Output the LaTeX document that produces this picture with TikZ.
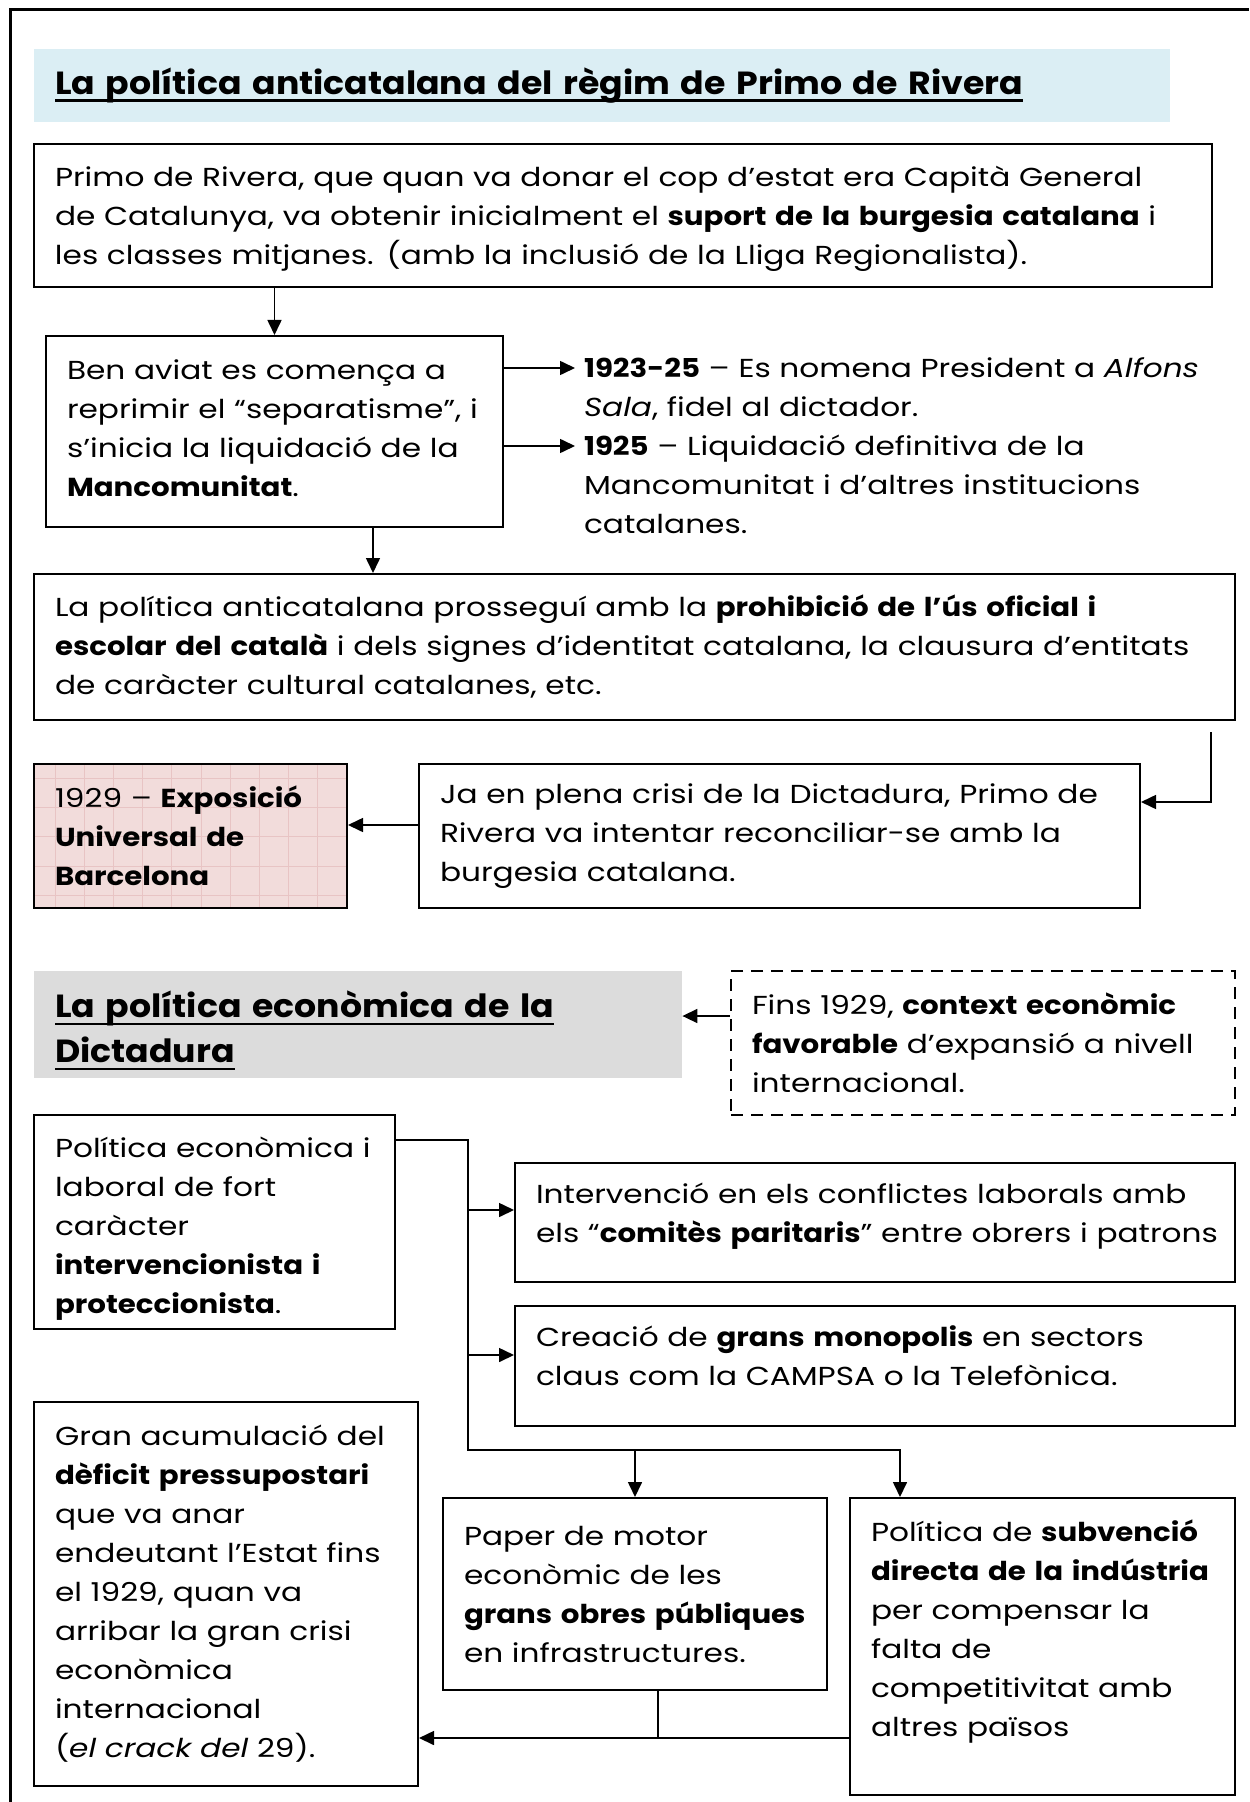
\documentclass[tikz,border=0pt]{standalone}
\usepackage{fontspec}
\setmainfont{Poppins}[UprightFeatures={FakeStretch=1.2},BoldFeatures={FakeStretch=1.125},
  ItalicFeatures={FakeStretch=1.2},BoldItalicFeatures={FakeStretch=1.125}]
\newfontfamily\headfont{Poppins}[UprightFeatures={FakeStretch=1.085},BoldFeatures={FakeStretch=1.085}]
\usetikzlibrary{arrows.meta}
\definecolor{titleblue}{HTML}{DBEEF4}
\definecolor{titlegray}{HTML}{DCDCDC}
\definecolor{expopink}{HTML}{F2DCDB}
\definecolor{gridpink}{HTML}{E8C4C4}
\newcommand{\uln}[1]{\leavevmode\setbox0\hbox{#1}\rlap{\rule[-3.8pt]{\wd0}{1.4pt}}\box0}
\newcommand{\uptext}[1]{\rule[-#1]{0pt}{#1}}
\newcommand{\downtext}[1]{\rule{0pt}{#1}}
\tikzset{
  box/.style={draw,line width=1pt,align=left,inner xsep=10.5pt,inner ysep=0pt,
    font=\fontsize{13}{19.5}\selectfont},
  plain/.style={align=left,inner xsep=10.5pt,inner ysep=0pt,
    font=\fontsize{13}{19.5}\selectfont},
  heading/.style={fill=#1,align=left,inner xsep=10.5pt,inner ysep=0pt,
    font=\fontsize{16}{22.5}\selectfont\headfont\bfseries},
  link/.style={->,line width=0.8pt},
}
\begin{document}
\begin{tikzpicture}[>={Triangle[length=7.5pt,width=7pt]},x=0.5pt,y=-0.5pt]
\useasboundingbox (0,0) rectangle (1249,1802);
\draw [line width=1.5pt] (10,1802) -- (10,10) -- (1249,10);
%%
\node (title1) at (602,85.5) [heading=titleblue,text width=547pt,minimum height=36.5pt] {\uln{La política anticatalana del règim de Primo de Rivera}};
  \node (box1) at (623,215.5) [box,text width=568pt,minimum height=71.5pt] {\downtext{14pt}Primo de Rivera, que quan va donar el cop d’estat era Capità General\\de Catalunya, va obtenir inicialment el \textbf{suport de la burgesia catalana} i\\les classes mitjanes. (amb la inclusió de la Lliga Regionalista).};
  \node (box2) at (274.5,431.5) [box,text width=207.5pt,minimum height=95.5pt] {Ben aviat es comença a\\reprimir el “separatisme”, i\\s’inicia la liquidació de la\\\textbf{Mancomunitat}.\uptext{3.5pt}};
  \node (sala) at (899,446) [plain,text width=315pt] {\textbf{1923-25} – Es nomena President a \textit{Alfons}\\\textit{Sala}, fidel al dictador.\\\textbf{1925} – Liquidació definitiva de la\\Mancomunitat i d’altres institucions\\catalanes.};
  \node (box3) at (634.5,647) [box,text width=579.5pt,minimum height=73pt] {La política anticatalana prosseguí amb la \textbf{prohibició de l’ús oficial i}\\\textbf{escolar del català} i dels signes d’identitat catalana, la clausura d’entitats\\de caràcter cultural catalanes, etc.};
  \node (box4) at (190.5,836) [box,fill=expopink,text width=135.5pt,minimum height=72pt,
    path picture={\draw [gridpink,line width=0.5pt] (path picture bounding box.south west) grid[step=14.6pt] (path picture bounding box.north east);}] {1929 – \textbf{Exposició}\\\textbf{Universal de}\\\textbf{Barcelona}};
  \node (box5) at (779.5,836) [box,text width=339.5pt,minimum height=72pt] {Ja en plena crisi de la Dictadura, Primo de\\Rivera va intentar reconciliar-se amb la\\burgesia catalana.};
  \node (title2) at (358,1024.5) [heading=titlegray,text width=303pt,minimum height=53.5pt] {\downtext{19.5pt}\uln{La política econòmica de la}\\\uln{Dictadura}};
  \node (box6) at (983,1043) [box,line width=1.4pt,dashed,dash pattern=on 6pt off 4pt,text width=231pt,minimum height=72pt] {Fins 1929, \textbf{context econòmic}\\\textbf{favorable} d’expansió a nivell\\internacional.};
  \node (box7) at (214.5,1222) [box,text width=159.5pt,minimum height=107pt] {\downtext{17pt}Política econòmica i\\laboral de fort\\caràcter\\\textbf{intervencionista i}\\\textbf{proteccionista}.};
  \node (box8) at (875,1222.5) [box,text width=339pt,minimum height=59.5pt] {Intervenció en els conflictes laborals amb\\\mbox{els “\textbf{comitès paritaris}” entre obrers i patrons}\uptext{10pt}};
  \node (box9) at (875,1366) [box,text width=339pt,minimum height=60pt] {Creació de \textbf{grans monopolis} en sectors\\claus com la CAMPSA o la Telefònica.\uptext{10pt}};
  \node (box10) at (635,1594) [box,text width=171pt,minimum height=96pt] {Paper de motor\\econòmic de les\\\textbf{grans obres públiques}\\en infrastructures.};
  \node (box11) at (1042.5,1646.5) [box,text width=171.5pt,minimum height=148.5pt] {Política de \textbf{subvenció}\\\textbf{directa de la indústria}\\per compensar la\\falta de\\competitivitat amb\\altres països\uptext{18pt}};
  \node (box12) at (226,1594) [box,text width=171pt,minimum height=192pt] {Gran acumulació del\\\textbf{dèficit pressupostari}\\que va anar\\endeutant l’Estat fins\\el 1929, quan va\\arribar la gran crisi\\econòmica\\internacional\\(\textit{el crack del} 29).};
%
\coordinate (l1) at (575,368);
\coordinate (l2) at (575,446);
\coordinate (c3) at (1211,732);
\coordinate (j1) at (468,1450);
\coordinate (j2) at (900,1450);
\coordinate (t2) at ([yshift=4.25pt]title2.east);
\coordinate (s7) at ([yshift=41pt]box7.east);
\coordinate (s8) at ([yshift=6.25pt]box8.west);
\coordinate (s9) at ([yshift=5.5pt]box9.west);
\coordinate (m10) at ([xshift=11.5pt]box10.south);
\coordinate (m11) at ([yshift=-45.75pt]box11.west);
  \draw [link] (box2.north |- box1.south) -- (box2.north);
  \draw [link] (box2.east |- l1) -- (l1);
  \draw [link] (box2.east |- l2) -- (l2);
  \draw [link] ([xshift=49.25pt]box2.south) -- ([xshift=49.25pt]box2.south |- box3.north);
  \draw [link] (c3) |- ([yshift=17pt]box5.east);
  \draw [link] ([yshift=5.5pt]box5.west) -- ([yshift=5.5pt]box5.west -| box4.east);
  \draw [link] (t2 -| box6.west) -- (t2);
  \draw [link] (s7) -| (j1) -- (j2) -- (j2 |- box11.north);
  \draw [link] (j1 |- s8) -- (s8);
  \draw [link] (j1 |- s9) -- (s9);
  \draw [link] (j1 -| box10.north) -- (box10.north);
  \draw [link] (m11) -- (m11 -| box12.east);
  \draw [line width=0.8pt] (m10) -- (m10 |- m11);
%
\end{tikzpicture}
\end{document}
